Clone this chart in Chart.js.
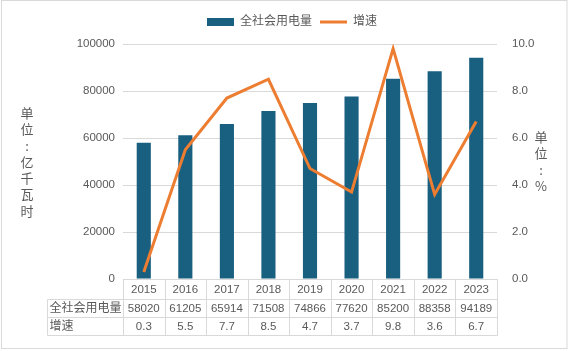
<!DOCTYPE html>
<html>
<head>
<meta charset="utf-8">
<script src="https://cdn.jsdelivr.net/npm/chart.js@4.4.1/dist/chart.umd.min.js"></script>
<style>
  html, body { margin: 0; padding: 0; background: #fff; }
  #wrap { width: 568px; height: 351px; }
</style>
</head>
<body>
<div id="wrap"><canvas id="chart"></canvas></div>
<script>
// data
const years = ['2015', '2016', '2017', '2018', '2019', '2020', '2021', '2022', '2023'];
const power = [58020, 61205, 65914, 71508, 74866, 77620, 85200, 88358, 94189];
const growth = [0.3, 5.5, 7.7, 8.5, 4.7, 3.7, 9.8, 3.6, 6.7];
const leftTicks = [0, 20000, 40000, 60000, 80000, 100000];
const rightTicks = [0, 2, 4, 6, 8, 10];
const leftTitle = ['单', '位', ':', '亿', '千', '瓦', '时'];
const rightTitle = ['单', '位', ':', '%'];
const rowLabels = ['全社会用电量', '增速'];

const BLUE = '#195F80';
const ORANGE = '#ED7D31';
const GREY = '#595959';
const LINE = '#D9D9D9';
const FONT = '"Liberation Sans", "Noto Sans CJK SC", sans-serif';

// white background + thin frame
const framePlugin = {
    id: 'frame',
    beforeDraw(chart) {
        const ctx = chart.ctx;
        ctx.save();
        ctx.fillStyle = '#fff';
        ctx.fillRect(0, 0, chart.width, chart.height);
        ctx.strokeStyle = LINE;
        ctx.lineWidth = 1;
        ctx.strokeRect(1.5, 0.5, chart.width - 2.5, chart.height - 3);
        ctx.restore();
    }
};

// data table under the plot + stacked axis titles
const tablePlugin = {
    id: 'dataTable',
    afterDraw(chart) {
        const { ctx, chartArea } = chart;
        const x = chart.scales.x;
        const colW = x.width / years.length;
        const top = Math.round(chartArea.bottom) + 0.5;
        const rows = [top, top + 20, top + 38, top + 56];
        const labelLeft = 47.5;
        const left = Math.round(chartArea.left) + 0.5;
        const right = Math.round(chartArea.right) + 0.5;

        ctx.save();
        ctx.strokeStyle = LINE;
        ctx.lineWidth = 1;
        ctx.beginPath();
        ctx.moveTo(left, rows[0]); ctx.lineTo(right, rows[0]);
        for (let r = 1; r < rows.length; r++) {
            ctx.moveTo(labelLeft, rows[r]); ctx.lineTo(right, rows[r]);
        }
        ctx.moveTo(labelLeft, rows[1]); ctx.lineTo(labelLeft, rows[3]);
        for (let i = 0; i <= years.length; i++) {
            const cx = Math.round(chartArea.left + i * colW) + 0.5;
            ctx.moveTo(cx, rows[0]); ctx.lineTo(cx, rows[3]);
        }
        ctx.stroke();

        ctx.fillStyle = GREY;
        ctx.textBaseline = 'middle';
        ctx.textAlign = 'center';
        ctx.font = '11.5px ' + FONT;
        years.forEach((y, i) => {
            const cx = x.getPixelForValue(i);
            ctx.fillText(y, cx, (rows[0] + rows[1]) / 2);
            ctx.fillText(String(power[i]), cx, (rows[1] + rows[2]) / 2);
            ctx.fillText(growth[i].toFixed(1), cx, (rows[2] + rows[3]) / 2);
        });
        ctx.textAlign = 'left';
        ctx.font = '12px ' + FONT;
        ctx.fillText(rowLabels[0], labelLeft + 2, (rows[1] + rows[2]) / 2);
        ctx.fillText(rowLabels[1], labelLeft + 2, (rows[2] + rows[3]) / 2);

        // vertical titles, one character per line
        ctx.textAlign = 'center';
        ctx.font = '13px "Noto Sans CJK SC", sans-serif';
        leftTitle.forEach((ch, i) => ctx.fillText(ch, 27, 113 + i * 16.3));
        rightTitle.forEach((ch, i) => ctx.fillText(ch, 541, 137 + i * 16.5));
        ctx.restore();
    }
};

const ctx = document.getElementById('chart').getContext('2d');
new Chart(ctx, {
    type: 'bar',
    data: {
        labels: years,
        datasets: [
            {
                type: 'bar',
                label: '全社会用电量',
                data: power,
                backgroundColor: BLUE,
                yAxisID: 'y',
                barPercentage: 0.34,
                categoryPercentage: 1,
                order: 2
            },
            {
                type: 'line',
                label: '增速',
                data: growth,
                borderColor: ORANGE,
                backgroundColor: ORANGE,
                borderWidth: 3,
                pointRadius: 0,
                tension: 0,
                yAxisID: 'y1',
                order: 1
            }
        ]
    },
    options: {
        responsive: true,
        maintainAspectRatio: false,
        animation: false,
        layout: { padding: { top: 8, left: 47, right: 31, bottom: 72 } },
        plugins: {
            tooltip: { enabled: false },
            // empty spacer between legend and plot
            title: {
                display: true,
                text: '',
                weight: 100,
                padding: 0,
                font: { size: 6, lineHeight: 1 }
            },
            legend: {
                position: 'top',
                labels: {
                    color: GREY,
                    font: { family: FONT, size: 12 },
                    usePointStyle: true,
                    pointStyleWidth: 27,
                    boxHeight: 8,
                    padding: 8,
                    sort: (a, b) => a.datasetIndex - b.datasetIndex,
                    generateLabels(chart) {
                        const items = Chart.defaults.plugins.legend.labels.generateLabels(chart);
                        items.forEach(it => {
                            if (it.datasetIndex === 0) {
                                it.pointStyle = 'rect';
                                it.fillStyle = BLUE;
                                it.strokeStyle = BLUE;
                                it.lineWidth = 0;
                            } else {
                                it.pointStyle = 'line';
                                it.strokeStyle = ORANGE;
                                it.lineWidth = 3;
                            }
                        });
                        return items;
                    }
                }
            }
        },
        scales: {
            x: {
                display: false,
                offset: true
            },
            y: {
                position: 'left',
                min: 0,
                max: 100000,
                afterBuildTicks: s => { s.ticks = leftTicks.map(v => ({ value: v })); },
                afterFit: s => { s.width = 76; },
                border: { display: false },
                grid: { color: LINE, drawTicks: false },
                ticks: {
                    color: GREY,
                    padding: 8,
                    font: { family: FONT, size: 11.5 },
                    callback: v => String(v)
                }
            },
            y1: {
                position: 'right',
                min: 0,
                max: 10,
                afterBuildTicks: s => { s.ticks = rightTicks.map(v => ({ value: v })); },
                afterFit: s => { s.width = 40; },
                border: { display: false },
                grid: { display: false },
                ticks: {
                    color: GREY,
                    padding: 7,
                    font: { family: FONT, size: 11.5 },
                    callback: v => Number(v).toFixed(1)
                }
            }
        }
    },
    plugins: [framePlugin, tablePlugin]
});
</script>
</body>
</html>
